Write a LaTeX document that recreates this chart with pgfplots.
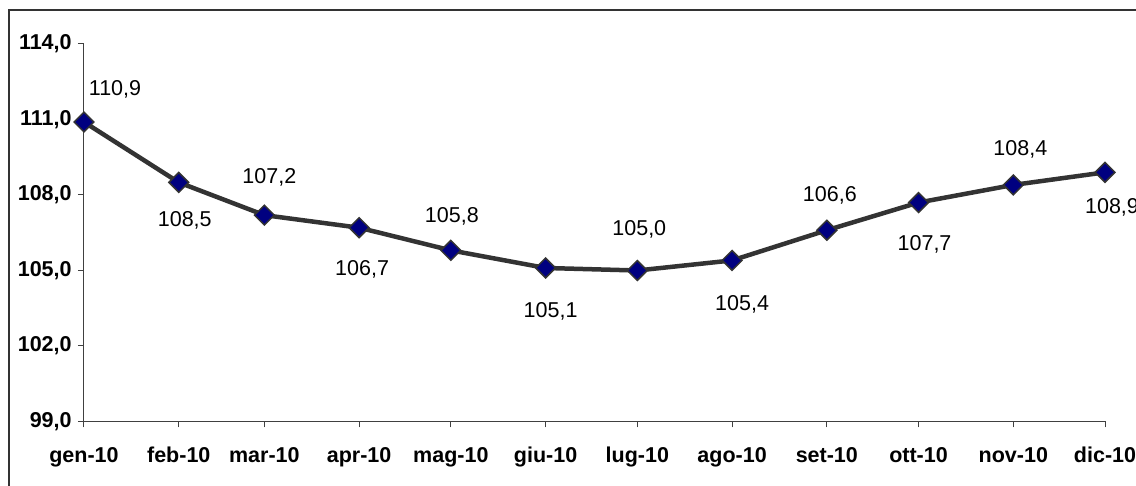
\documentclass[border=0pt]{standalone}
\usepackage{fontspec}
\setmainfont{Liberation Sans}
\usepackage{pgfplots}
\pgfplotsset{compat=1.18}
\usepackage{pgfplotstable}

\definecolor{linegray}{HTML}{333333}
\definecolor{marknavy}{HTML}{000080}

% Monthly index, x = day of the year at the first of each month
% dx, dy: label offsets from the marker (pt)
\pgfplotstableread{
x   y      dx  dy
0   110.9  31  33
31  108.5  6   -38
59  107.2  5   38
90  106.7  3   -42
120 105.8  1   34
151 105.1  5   -43
181 105.0  2   41
212 105.4  10  -44
243 106.6  3   35
273 107.7  6   -42
304 108.4  7   36
334 108.9  7   -35
}\indexdata

\begin{document}
\fontsize{21.5}{25}\selectfont
\begin{tikzpicture}[x=1pt,y=1pt]
\useasboundingbox (0,0) rectangle (1136,486);
\clip (0,0) rectangle (1136,486);
% outer chart frame
\draw[linegray, line width=1.5pt] (9,476) rectangle (1160,-20);
\begin{axis}[
  at={(84pt,64.5pt)}, anchor=origin,
  scale only axis,
  width=1021pt, height=377.5pt,
  xmin=0, xmax=334,
  ymin=99, ymax=114,
  axis x line*=bottom, axis y line*=left,
  axis line style={-, black!75, line width=1pt},
  xtick={0,31,59,90,120,151,181,212,243,273,304,334},
  xticklabels={gen-10,feb-10,mar-10,apr-10,mag-10,giu-10,lug-10,ago-10,set-10,ott-10,nov-10,dic-10},
  ytick={99,102,105,108,111,114},
  tick align=outside,
  major tick length=6pt,
  tick style={black!75, line width=1pt},
  /pgf/number format/assume math mode=true,
  yticklabel style={font=\fontsize{21.5}{25}\selectfont\bfseries, xshift=1pt,
    /pgf/number format/.cd, fixed, fixed zerofill, precision=1, use comma},
  xticklabel style={font=\fontsize{21.5}{25}\selectfont\bfseries,
    text height=16pt, text depth=5pt, yshift=-12pt},
  clip=false,
]
\addplot[
  color=linegray, line width=4.5pt,
  mark=square*, mark size=7pt,
  mark options={fill=marknavy, draw=linegray, line width=1.5pt, rotate=45},
  point meta=explicit,
  visualization depends on={\thisrow{dx} \as \dx},
  visualization depends on={\thisrow{dy} \as \dy},
  nodes near coords={\pgfmathprintnumber[fixed,fixed zerofill,precision=1,use comma,assume math mode=true]{\pgfplotspointmeta}},
  every node near coord/.append style={anchor=center, xshift=\dx pt, yshift=\dy pt, text=black, font=\fontsize{21.5}{25}\selectfont},
] table[x=x, y=y, meta=y] {\indexdata};
\end{axis}
\end{tikzpicture}
\end{document}
